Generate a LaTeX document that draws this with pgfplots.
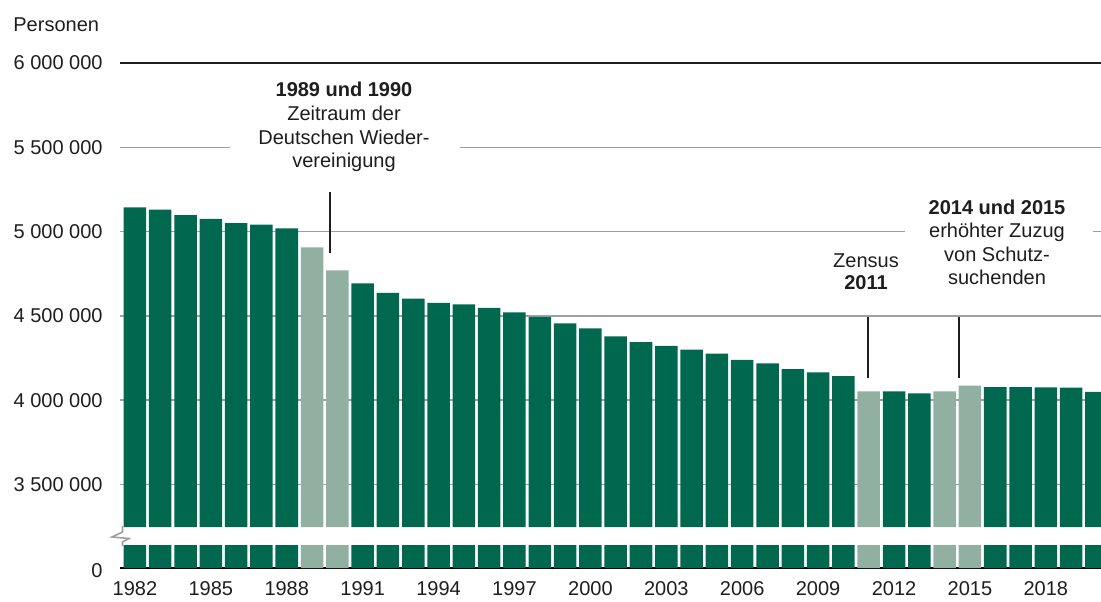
\documentclass[border=0pt]{standalone}
\usepackage{pgfplots}
\pgfplotsset{compat=1.18}
\usepackage{fontspec}
\setmainfont{Liberation Sans}
\definecolor{darkg}{RGB}{0,104,78}
\definecolor{lightg}{RGB}{145,176,162}
\definecolor{gridg}{RGB}{160,160,160}
\definecolor{txt}{RGB}{30,30,30}

\begin{document}
\begin{tikzpicture}
\useasboundingbox (0,0) rectangle (550.5pt,300.5pt);
\pgfplotsset{
  common/.style={
    scale only axis,
    width=490.5pt,
    xmin=1981.41, xmax=2020.18,
    axis line style={draw=none},
    major tick length=0pt,
    scaled y ticks=false, scaled x ticks=false,
    ybar, bar width=0.89, /pgf/bar shift=0pt,
    tick label style={font=\fontsize{10}{12}\selectfont, text=txt},
    yticklabel style={anchor=east, inner sep=0pt, xshift=-8.5pt},
  }
}
% upper part
\begin{axis}[common,
  at={(60pt,37pt)}, anchor=south west,
  height=232pt,
  ymin=3248000, ymax=6000000,
  clip mode=individual,
  xtick=\empty,
  ytick={3500000,4000000,4500000,5000000,5500000},
  yticklabels={3 500 000,4 000 000,4 500 000,5 000 000,5 500 000},
  ymajorgrids, grid style={gridg, line width=0.75pt},
  extra y ticks={6000000},
  extra y tick labels={6 000 000},
  extra y tick style={grid style={txt, line width=1.1pt}},
]
\addplot[fill=darkg, draw=none] coordinates {
(1982,5143000) (1983,5130000) (1984,5098000) (1985,5075000) (1986,5051000)
(1987,5041000) (1988,5019000) (1991,4693000) (1992,4636000) (1993,4602000)
(1994,4578000) (1995,4568000) (1996,4547000) (1997,4521000) (1998,4495000)
(1999,4456000) (2000,4426000) (2001,4378000) (2002,4345000) (2003,4323000)
(2004,4300000) (2005,4276000) (2006,4240000) (2007,4218000) (2008,4185000)
(2009,4165000) (2010,4143000) (2012,4052000) (2013,4040000) (2016,4078000)
(2017,4077000) (2018,4076000) (2019,4074000) (2020,4050000)};
\addplot[fill=lightg, draw=none] coordinates {
(1989,4906000) (1990,4770000) (2011,4052000) (2014,4052000) (2015,4086000)};
\end{axis}
% lower part
\begin{axis}[common,
  at={(60pt,16.5pt)}, anchor=south west,
  height=11.5pt,
  ymin=0, ymax=100000,
  xtick={1982,1985,1988,1991,1994,1997,2000,2003,2006,2009,2012,2015,2018},
  xticklabels={1982,1985,1988,1991,1994,1997,2000,2003,2006,2009,2012,2015,2018},
  xticklabel style={anchor=north, inner sep=0pt, yshift=-6.5pt},
  ytick={0}, yticklabels={0},
  yticklabel style={yshift=-1.5pt},
  ymajorgrids, grid style={black, line width=1pt},
]
\addplot[fill=darkg, draw=none] coordinates {
(1982,5143000) (1983,5130000) (1984,5098000) (1985,5075000) (1986,5051000)
(1987,5041000) (1988,5019000) (1991,4693000) (1992,4636000) (1993,4602000)
(1994,4578000) (1995,4568000) (1996,4547000) (1997,4521000) (1998,4495000)
(1999,4456000) (2000,4426000) (2001,4378000) (2002,4345000) (2003,4323000)
(2004,4300000) (2005,4276000) (2006,4240000) (2007,4218000) (2008,4185000)
(2009,4165000) (2010,4143000) (2012,4052000) (2013,4040000) (2016,4078000)
(2017,4077000) (2018,4076000) (2019,4074000) (2020,4050000)};
\addplot[fill=lightg, draw=none] coordinates {
(1989,4906000) (1990,4770000) (2011,4052000) (2014,4052000) (2015,4086000)};
\end{axis}
% annotations in pixel coordinates
\begin{scope}[x=0.5pt,y=-0.5pt,shift={(0pt,300.5pt)},
  every node/.style={font=\fontsize{10}{12}\selectfont, text=txt, inner sep=0pt}]
\fill[white] (230,75) rectangle (460,180);
\fill[white] (905,190) rectangle (1093,300);
\node[anchor=base west] at (13,32) {Personen};
\node[anchor=base] at (344,97) {\bfseries 1989 und 1990};
\node[anchor=base] at (344,120.5) {Zeitraum der};
\node[anchor=base] at (344,144) {Deutschen Wieder-};
\node[anchor=base] at (344,167.5) {vereinigung};
\draw[txt, line width=0.75pt] (330,192) -- (330,253);
\node[anchor=base] at (866,267) {Zensus};
\node[anchor=base] at (866,289) {\bfseries 2011};
\draw[txt, line width=0.75pt] (868,317) -- (868,378);
\node[anchor=base] at (997,214) {\bfseries 2014 und 2015};
\node[anchor=base] at (997,237.5) {erhöhter Zuzug};
\node[anchor=base] at (997,261) {von Schutz-};
\node[anchor=base] at (997,284.5) {suchenden};
\draw[txt, line width=0.75pt] (959,317) -- (959,378);
\draw[gridg, line width=0.8pt] (122.5,526) -- (122.5,532) -- (112,537) -- (129,538.5) -- (122.5,542) -- (122.5,546);
\end{scope}
\end{tikzpicture}
\end{document}
